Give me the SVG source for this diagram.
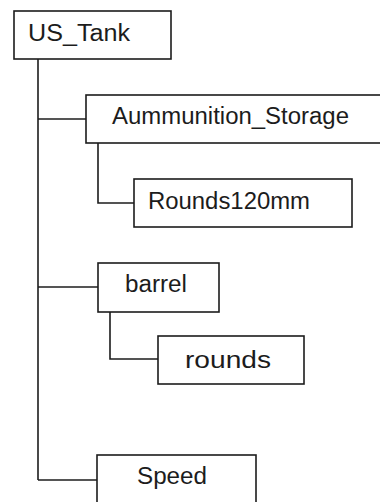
<svg xmlns="http://www.w3.org/2000/svg" width="380" height="502" viewBox="0 0 380 502">
  <style>
    .box { fill: #ffffff; stroke: #1c1c1c; stroke-width: 1.6; }
    .lbl { font-family: "Liberation Sans", Arial, sans-serif; font-size: 23px; fill: #1c1c1c; }
    .wire { fill: none; stroke: #1c1c1c; stroke-width: 1.6; }
  </style>
  <rect width="380" height="502" fill="#ffffff"/>

  <!-- tree connectors -->
  <g id="connectors">
    <path class="wire" d="M38,59 V480"/>
    <path class="wire" d="M38,119 H86"/>
    <path class="wire" d="M98,143 V203 H134"/>
    <path class="wire" d="M38,287 H98"/>
    <path class="wire" d="M110,312 V359 H158"/>
    <path class="wire" d="M38,480 H98"/>
  </g>

  <g id="us_tank">
    <rect class="box" x="14" y="11" width="157" height="48"/>
    <text class="lbl" x="28" y="41" textLength="102" lengthAdjust="spacingAndGlyphs">US_Tank</text>
  </g>

  <g id="ammunition_storage">
    <rect class="box" x="86" y="95" width="300" height="48"/>
    <text class="lbl" x="112" y="124" textLength="237" lengthAdjust="spacingAndGlyphs">Aummunition_Storage</text>
  </g>

  <g id="rounds120mm">
    <rect class="box" x="134" y="179" width="218" height="48"/>
    <text class="lbl" x="148" y="209" textLength="162" lengthAdjust="spacingAndGlyphs">Rounds120mm</text>
  </g>

  <g id="barrel">
    <rect class="box" x="98" y="263" width="121" height="49"/>
    <text class="lbl" x="125" y="292" textLength="62" lengthAdjust="spacingAndGlyphs">barrel</text>
  </g>

  <g id="rounds">
    <rect class="box" x="158" y="336" width="146" height="48"/>
    <text class="lbl" x="185" y="368" font-size="30" textLength="86" lengthAdjust="spacingAndGlyphs">rounds</text>
  </g>

  <g id="speed">
    <rect class="box" x="97" y="455" width="159" height="60"/>
    <text class="lbl" x="137" y="484" textLength="70" lengthAdjust="spacingAndGlyphs">Speed</text>
  </g>
</svg>
